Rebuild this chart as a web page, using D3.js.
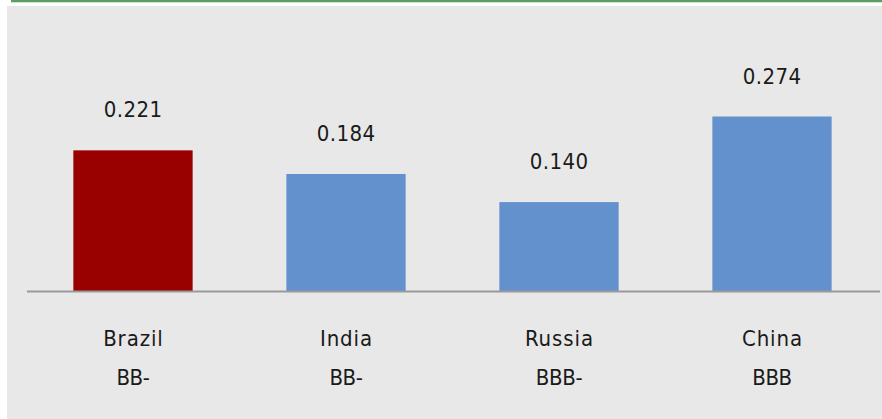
<!DOCTYPE html>
<html>
<head>
<meta charset="utf-8">
<script src="https://cdn.jsdelivr.net/npm/d3@7"></script>
<style>
  html, body { margin: 0; padding: 0; background: #ffffff; }
  svg { display: block; }
  text { font-family: "DejaVu Sans Condensed", "DejaVu Sans", sans-serif; fill: #1a1a1a; }
</style>
</head>
<body>
<svg id="chart" width="882" height="419"></svg>
<script>
// Countries, their values and credit ratings
const countries = ["Brazil", "India", "Russia", "China"];
const values = [0.221, 0.184, 0.140, 0.274];
const ratings = ["BB-", "BB-", "BBB-", "BBB"];
const highlight = ["Brazil"];

const W = 882, H = 419;
const svg = d3.select("#chart");

// panel and top rule
svg.append("rect").attr("x", 7).attr("y", 6).attr("width", W - 7).attr("height", H - 6)
  .attr("fill", "#e8e8e8");
svg.append("rect").attr("x", 11).attr("y", 0).attr("width", W - 11).attr("height", 2.3)
  .attr("fill", "#5b9e63");

const baseY = 291.5;
const x = d3.scaleBand().domain(countries).range([26.5, 878.5]).paddingInner(0.44).paddingOuter(0.22);
const y = d3.scaleLinear().domain([0, 0.274]).range([baseY, 116.5]);

// bars
svg.append("g").selectAll("rect").data(countries).join("rect")
  .attr("x", d => x(d))
  .attr("width", x.bandwidth())
  .attr("y", (d, i) => y(values[i]))
  .attr("height", (d, i) => baseY - y(values[i]))
  .attr("fill", d => highlight.includes(d) ? "#990000" : "#6391cd");

// baseline axis
const axis = d3.axisBottom(x).tickSize(0).tickFormat("");
const ag = svg.append("g").attr("transform", `translate(0,${baseY})`).call(axis);
ag.select(".domain").attr("stroke", "#9a9a9a").attr("stroke-width", 2)
  .attr("d", `M27,0H880`);

const cx = d => x(d) + x.bandwidth() / 2;

// value labels
const valSpacing = 0.4;
svg.append("g").selectAll("text").data(countries).join("text")
  .attr("x", d => cx(d) + valSpacing / 2)
  .attr("y", (d, i) => y(values[i]) - 33)
  .attr("text-anchor", "middle")
  .attr("font-size", 22)
  .attr("letter-spacing", valSpacing)
  .text((d, i) => values[i].toFixed(3));

// category names and ratings
const nameSpacing = 0.9;
const lg = svg.append("g");
lg.selectAll("text.name").data(countries).join("text").attr("class", "name")
  .attr("x", d => cx(d) + nameSpacing / 2)
  .attr("y", 346)
  .attr("text-anchor", "middle")
  .attr("font-size", 22)
  .attr("letter-spacing", nameSpacing)
  .text(d => d);
lg.selectAll("text.rating").data(countries).join("text").attr("class", "rating")
  .attr("x", d => cx(d))
  .attr("y", 385)
  .attr("text-anchor", "middle")
  .attr("font-size", 22)
  .attr("letter-spacing", -0.4)
  .text((d, i) => ratings[i]);
</script>
</body>
</html>
